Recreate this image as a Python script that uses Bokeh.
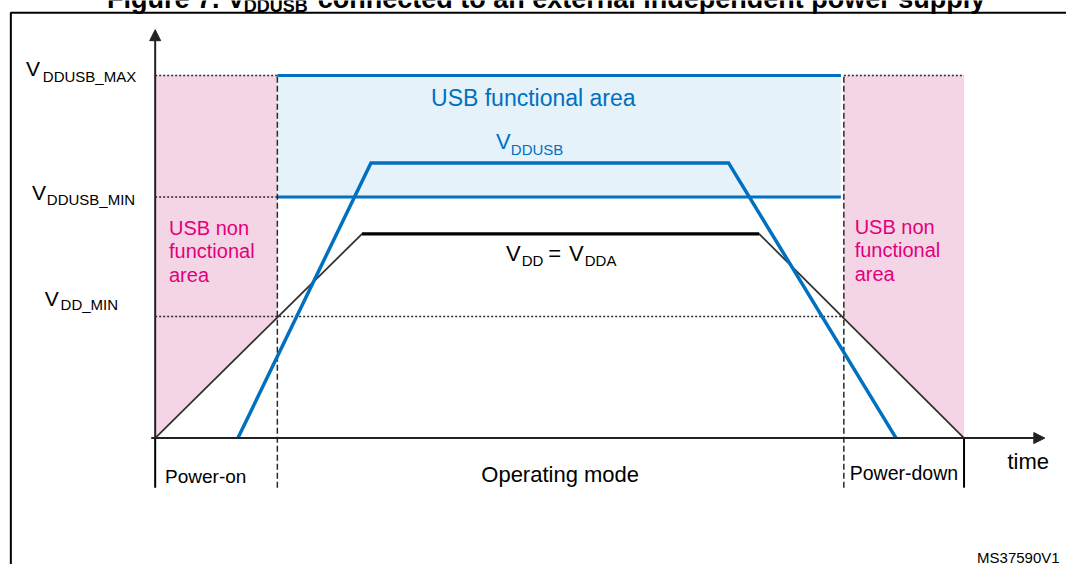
import numpy as np
from bokeh.plotting import figure
from bokeh.models import Range1d, Arrow, NormalHead
from bokeh.core.properties import value
from bokeh.embed import file_html
from bokeh.resources import INLINE

# ---------------- data (time / voltage in chart units) ----------------
phase_t = [0, 124, 699, 821]          # power-on start, operating start, power-down start, end
phase_labels = ["Power-on", "Operating mode", "Power-down"]
level_subs = ["DDUSB_MAX", "DDUSB_MIN", "DD_MIN"]
level_v = [373, 248, 125]              # VDDUSB_MAX, VDDUSB_MIN, VDD_MIN
vdd_t = [0, 210, 613, 821]
vdd_v = [0, 210, 210, 0]
vddusb_t = [84, 219, 582, 752]
vddusb_v = [0, 283, 283, 0]
title_parts = ["Figure 7. V", "DDUSB", "connected to an external independent power supply"]
figure_id = "MS37590V1"

FONT = value("Liberation Sans")
BLUE = "#0070C0"
MAGENTA = "#E2007A"
PINK = "#F4D5E6"
LIGHTBLUE = "#E6F2FA"
DARK = "#2a2a2a"

p = figure(width=1066, height=564, x_range=Range1d(-157, 925), y_range=Range1d(-130, 450),
           output_backend="svg", toolbar_location=None, x_axis_location=None,
           y_axis_location=None, min_border=0, outline_line_color=None)
p.grid.visible = False
p.background_fill_color = "white"
p.border_fill_color = "white"

t_on, t_op, t_dn, t_end = phase_t
v_max, v_min, vdd_min = level_v

# ---- shaded areas ----
p.varea(x=[t_on, t_op], y1=[np.interp(t_on, vdd_t, vdd_v), np.interp(t_op, vdd_t, vdd_v)],
        y2=[v_max, v_max], fill_color=PINK)
p.varea(x=[t_dn, t_end], y1=[np.interp(t_dn, vdd_t, vdd_v), np.interp(t_end, vdd_t, vdd_v)],
        y2=[v_max, v_max], fill_color=PINK)
p.quad(left=t_op, right=t_dn - 3, bottom=v_min, top=v_max, fill_color=LIGHTBLUE, line_color=None)

# ---- dotted level lines ----
p.multi_line(xs=[[t_on, t_op], [t_dn, t_end], [t_on, t_op], [t_on, t_dn]],
             ys=[[v_max, v_max], [v_max, v_max], [v_min, v_min], [vdd_min, vdd_min]],
             line_color=DARK, line_width=1.5, line_dash="2 2")
# ---- USB functional area borders ----
p.multi_line(xs=[[t_op, t_dn - 3], [t_op, t_dn - 3]], ys=[[v_max, v_max], [v_min, v_min]],
             line_color=BLUE, line_width=3)

# ---- phase boundaries ----
p.multi_line(xs=[[t_op, t_op], [t_dn, t_dn]], ys=[[-51, v_max], [-51, v_max]],
             line_color=DARK, line_width=1.5, line_dash="6 3")
p.multi_line(xs=[[t_on, t_on], [t_end, t_end]], ys=[[-51, 0], [-51, 0]],
             line_color="black", line_width=2)

# ---- traces ----
p.line(vdd_t, vdd_v, line_color="#333333", line_width=1.8)
p.line(vdd_t[1:3], vdd_v[1:3], line_color="black", line_width=3.2)
p.line(vddusb_t, vddusb_v, line_color=BLUE, line_width=3.5, line_join="miter")

# ---- axes ----
head = dict(size=11, fill_color="#222222", line_color="#222222")
p.add_layout(Arrow(end=NormalHead(**head), x_start=0, y_start=0, x_end=0, y_end=420,
                   line_color="#222222", line_width=2))
p.add_layout(Arrow(end=NormalHead(**head), x_start=-4, y_start=0, x_end=903, y_end=0,
                   line_color="#222222", line_width=2))

# ---- outer frame (left + top edges) ----
p.line([-146.5, -146.5, 1000], [-300, 437.5, 437.5], line_color="black", line_width=2)

# ---- text (y given as baseline; drawn centred on the cap height) ----
def txt(x, base, t, size, color="black", align="left", style="normal"):
    px = float(size.rstrip("px"))
    y = [b + 0.36 * px for b in base]
    p.text(x=x, y=y, text=t, text_font=FONT, text_font_size=value(size), text_color=color,
           text_align=align, text_baseline="middle", text_font_style=style)

# title (mostly cut off at top, as in reference)
txt([-49, 165], [442, 442], [title_parts[0], title_parts[2]], "27px", style="bold")
txt([90], [438], [title_parts[1]], "18px", style="bold")

# level labels
txt([-131, -125, -112], [372, 245, 136], ["V", "V", "V"], "21px")
txt([-114, -110, -96], [366, 239.5, 132], level_subs, "15px")

# USB functional area
txt([280], [341], ["USB functional area"], "23px", color=BLUE)
txt([346], [297], ["V"], "22px", color=BLUE)
txt([361], [291], ["DDUSB"], "15px", color=BLUE)

# VDD = VDDA
txt([356, 399, 420], [182, 182, 182], ["V", "=", "V"], "22px")
txt([372, 436], [177, 177], ["DD", "DDA"], "15px")

# non functional area labels
nf = ["USB non", "functional", "area"]
txt([14] * 3, [209, 185, 161], nf, "20px", color=MAGENTA)
txt([710] * 3, [210, 186, 162], nf, "20px", color=MAGENTA)

# phase labels
txt([10], [-46], [phase_labels[0]], "19px")
txt([331], [-45], [phase_labels[1]], "22px")
txt([705], [-43], [phase_labels[2]], "19.5px")
txt([865], [-32], ["time"], "22px")
txt([918], [-128], [figure_id], "15px", align="right")

open("out.html", "w").write(file_html(p, INLINE))
